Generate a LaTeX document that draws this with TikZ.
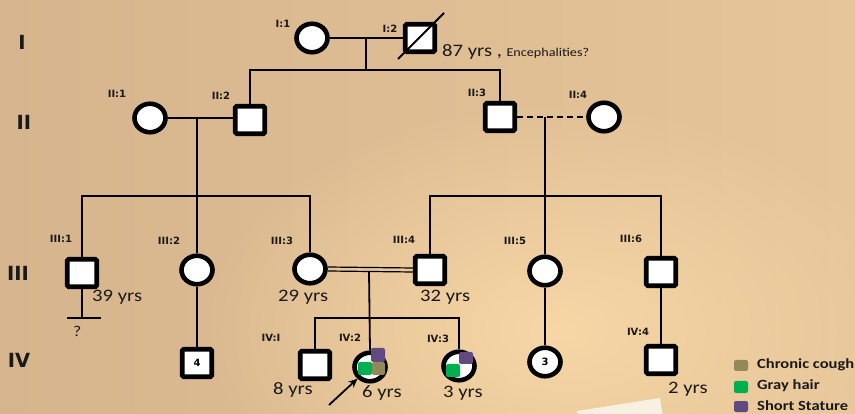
\documentclass[tikz,border=0pt]{standalone}
\usepackage{fontspec}
\setmainfont{Carlito}[FakeStretch=1.18]
\newfontfamily\lblfont{DejaVu Sans}
\usetikzlibrary{arrows.meta,shapes.geometric,fadings}
\tikzfading[name=glow,inner color=transparent!0,outer color=transparent!100]
\definecolor{bgL}{RGB}{214,181,142}
\definecolor{bgR}{RGB}{230,197,153}
\definecolor{bgHi}{RGB}{247,215,166}
\definecolor{ink}{RGB}{25,25,25}
\definecolor{cough}{RGB}{146,136,90}
\definecolor{grayhair}{RGB}{0,176,80}
\definecolor{stature}{RGB}{96,74,128}
\begin{document}
\begin{tikzpicture}[x=1pt,y=-1pt,
  male/.style={rectangle,draw=black,line width=4.6pt,fill=white,rounded corners=1.5pt,
    minimum width=29.5pt,minimum height=27.5pt,inner sep=0pt,
    font=\lblfont\bfseries\fontsize{10}{10}\selectfont},
  female/.style={ellipse,draw=black,line width=4.6pt,fill=white,
    minimum width=31pt,minimum height=28.5pt,inner sep=0pt,
    font=\lblfont\bfseries\fontsize{10}{10}\selectfont},
  link/.style={draw=black,line width=1.8pt},
  idlbl/.style={font=\lblfont\bfseries\fontsize{10}{10}\selectfont,text=ink,inner sep=0pt},
  gen/.style={font=\lblfont\bfseries\fontsize{19.5}{19.5}\selectfont,text=ink,inner sep=0pt},
  age/.style={font=\fontsize{17.5}{17.5}\selectfont,text=ink,anchor=base west,inner sep=0pt},
  legtxt/.style={font=\bfseries\fontsize{14}{14}\selectfont,text=ink,anchor=west,inner sep=0pt},
  patch/.style={rounded corners=2pt}]

% background
\useasboundingbox (0,0) rectangle (855,414);
\clip (0,0) rectangle (855,414);
\shade[left color=bgL,right color=bgR] (0,0) rectangle (855,414);
\fill[bgHi,path fading=glow] (560,330) ellipse (360 and 230);
\fill[white,opacity=0.7] (577,411) -- (660,398) -- (664,424) -- (581,437) -- cycle;

% generation numerals
\node[gen] (gI)   at (22,42)  {I};
\node[gen] (gII)  at (24,122) {II};
\node[gen] (gIII) at (18,273) {III};
\node[gen] (gIV)  at (19,360) {IV};

% generation I
\node[female] (I1) at (312,38) {};
\node[male]   (I2) at (420,38) {};
\draw[link] ([shift={(-22,21)}]I2.center) -- ([shift={(24,-25)}]I2.center);

% generation II
\node[female] (II1) at (150,118) {};
\node[male]   (II2) at (250,120) {};
\node[male]   (II3) at (500,117) {};
\node[female] (II4) at (604,117) {};

% generation III
\node[male]   (III1) at (82,273)  {};
\node[female] (III2) at (197,270) {};
\node[female] (III3) at (310,269) {};
\node[male]   (III4) at (430,270) {};
\node[female] (III5) at (545,271) {};
\node[male]   (III6) at (661,272) {};

% generation IV
\node[male]   (IVa) at (197,363) {4};
\node[male]   (IV1) at (315,365) {};
\node[female] (IV2) at (370,367) {};
\node[female] (IV3) at (459,366) {};
\node[female] (IVb) at (545,362) {3};
\node[male]   (IV4) at (661,360) {};

% affected quadrants
\fill[stature,patch]  (371,348) rectangle (385,362);
\fill[grayhair,patch] (358,362) rectangle (372,375);
\fill[cough,patch]    (372,362) rectangle (385,375);
\fill[stature,patch]  (459,352) rectangle (473,364);
\fill[grayhair,patch] (446,364) rectangle (460,377);

% junction points
\coordinate (m1) at (366,38);
\coordinate (s1) at (366,70);
\coordinate (m2) at (197,118);
\coordinate (s2) at (197,196);
\coordinate (m3) at (545,117);
\coordinate (s3) at (545,196);
\coordinate (m4) at (369,271);
\coordinate (s4) at (369,318);
\coordinate (nb)  at (82,318);
\coordinate (nbl) at (67,318);
\coordinate (nbr) at (101,318);
\coordinate (arr) at (329,405);

% mating and descent lines
\draw[link] (I1) -- (I2);
\draw[link] (m1) -- (s1);
\draw[link] (II2.north) |- (s1) -| (II3.north);

\draw[link] (II1) -- (II2.west |- m2);
\draw[link] (m2) -- (s2);
\draw[link] (III1.north) |- (s2) -| (III3.north);
\draw[link] (s2) -- (III2.north);

\draw[link,dash pattern=on 6pt off 4pt] (II3) -- (II4);
\draw[link] (m3) -- (s3);
\draw[link] (III4.north) |- (s3) -| (III6.north);
\draw[link] (s3) -- (III5.north);

\draw[draw=black,line width=1.2pt] ([yshift=2pt]III3.east) -- ([yshift=2pt]III4.west);
\draw[draw=black,line width=1.2pt] ([yshift=-2pt]III3.east) -- ([yshift=-2pt]III4.west);
\draw[link] (m4) -- (IV2.north);
\draw[link] (IV1.north) |- (s4) -| (IV3.north);

\draw[link] (III1.south) -- (nb);
\draw[link] (nbl) -- (nbr);
\draw[link] (III2.south) -- (IVa.north);
\draw[link] (III5.south) -- (IVb.north);
\draw[link] (III6.south) -- (IV4.north);

% proband arrow
\draw[link,-{Stealth[length=9pt,width=8pt]}] (arr) -- (IV2.south west);

% identifiers
\node[idlbl] (lI1)   at (283,24)  {I:1};
\node[idlbl] (lI2)   at (390,29)  {I:2};
\node[idlbl] (lII1)  at (117,94)  {II:1};
\node[idlbl] (lII2)  at (221,96)  {II:2};
\node[idlbl] (lII3)  at (477,93)  {II:3};
\node[idlbl] (lII4)  at (578,95)  {II:4};
\node[idlbl] (lIII1) at (61,239)  {III:1};
\node[idlbl] (lIII2) at (169,241) {III:2};
\node[idlbl] (lIII3) at (282,241) {III:3};
\node[idlbl] (lIII4) at (404,240) {III:4};
\node[idlbl] (lIII5) at (515,241) {III:5};
\node[idlbl] (lIII6) at (631,239) {III:6};
\node[idlbl] (lIV1)  at (271,338) {IV:I};
\node[idlbl] (lIV2)  at (350,338) {IV:2};
\node[idlbl] (lIV3)  at (438,339) {IV:3};
\node[idlbl] (lIV4)  at (638,332) {IV:4};

% ages and notes
\node[age] (aI2)   at (442,57)  {87 yrs , {\fontsize{12}{12}\selectfont Encephalities?}};
\node[age] (aIII1) at (92,302)  {39 yrs};
\node[age] (aIII3) at (278,302) {29 yrs};
\node[age] (aIII4) at (420,302) {32 yrs};
\node[age] (aIV1)  at (273,395) {8 yrs};
\node[age] (aIV2)  at (362,397) {6 yrs};
\node[age] (aIV3)  at (443,397) {3 yrs};
\node[age] (aIV4)  at (668,393) {2 yrs};
\node[age,font=\fontsize{15}{15}\selectfont] (q) at (73,337) {?};

% legend
\fill[cough,patch]    (734,360) rectangle (748,371);
\fill[grayhair,patch] (734,381) rectangle (748,393);
\fill[stature,patch]  (734,401) rectangle (748,412);
\node[legtxt] (lg1) at (757,365) {Chronic cough};
\node[legtxt] (lg2) at (757,386) {Gray hair};
\node[legtxt] (lg3) at (757,406) {Short Stature};
\end{tikzpicture}
\end{document}
